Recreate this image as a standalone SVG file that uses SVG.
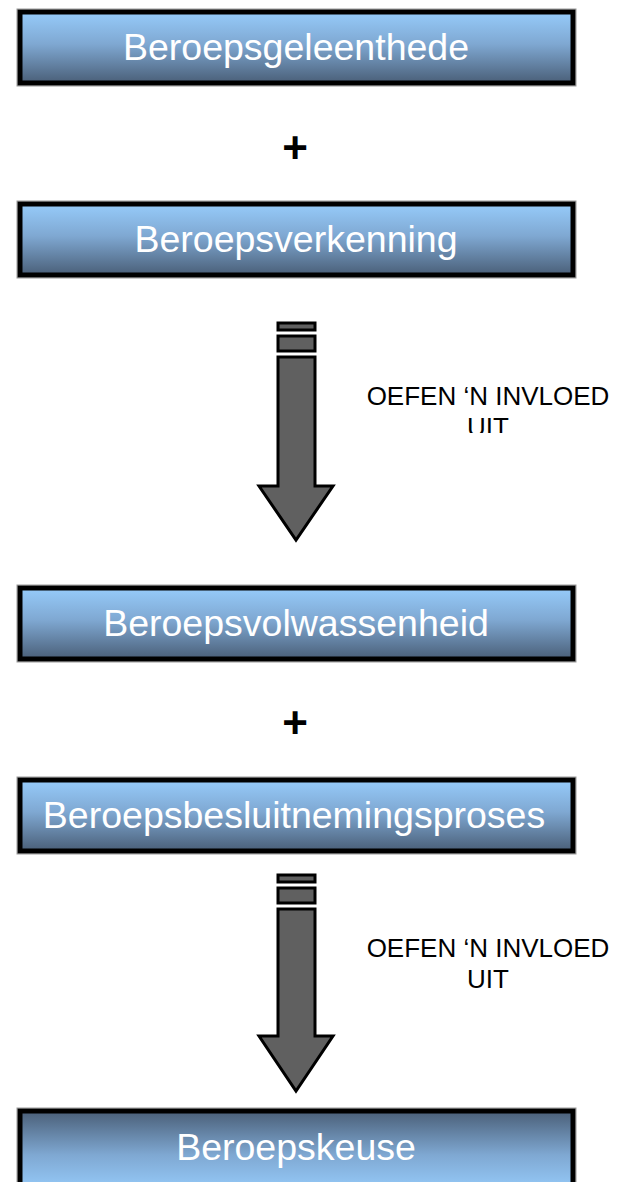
<svg xmlns="http://www.w3.org/2000/svg" width="632" height="1182" viewBox="0 0 632 1182">
<defs>
<linearGradient id="gDown" x1="0" y1="0" x2="0" y2="1">
<stop offset="0" stop-color="#96CBFA"/>
<stop offset="0.45" stop-color="#7FA8D2"/>
<stop offset="1" stop-color="#4A5F78"/>
</linearGradient>
<linearGradient id="gUp" x1="0" y1="1" x2="0" y2="0">
<stop offset="0" stop-color="#96CBFA"/>
<stop offset="0.45" stop-color="#7FA8D2"/>
<stop offset="1" stop-color="#4A5F78"/>
</linearGradient>
<clipPath id="clip1"><rect x="340" y="370" width="292" height="63"/></clipPath>
</defs>
<style>
.box{stroke:#000;stroke-width:5}
.outer{fill:none;stroke:#999;stroke-width:1}
.lbl{font-family:"Liberation Sans",Arial,sans-serif;font-size:37.5px;fill:#fff;text-anchor:middle}
.plus{font-family:"Liberation Sans",Arial,sans-serif;font-size:44px;font-weight:bold;fill:#000;text-anchor:middle}
.arr{fill:#606060;stroke:#000;stroke-width:3;stroke-linejoin:miter}
.note{font-family:"Liberation Sans",Arial,sans-serif;font-size:26px;fill:#000;text-anchor:middle}
</style>
<g id="node1">
<rect class="outer" x="17" y="9" width="559" height="77"/>
<rect class="box" x="20" y="12" width="553" height="71" fill="url(#gDown)"/>
<text class="lbl" x="296" y="60">Beroepsgeleenthede</text>
</g>
<g id="plus1"><text class="plus" x="295" y="163">+</text></g>
<g id="node2">
<rect class="outer" x="17" y="201" width="559" height="77"/>
<rect class="box" x="20" y="204" width="553" height="71" fill="url(#gDown)"/>
<text class="lbl" x="296" y="252">Beroepsverkenning</text>
</g>
<g id="node3">
<rect class="outer" x="17" y="585" width="559" height="77"/>
<rect class="box" x="20" y="588" width="553" height="71" fill="url(#gDown)"/>
<text class="lbl" x="296" y="636">Beroepsvolwassenheid</text>
</g>
<g id="plus2"><text class="plus" x="295" y="738">+</text></g>
<g id="node4">
<rect class="outer" x="17" y="777" width="559" height="77"/>
<rect class="box" x="20" y="780" width="553" height="71" fill="url(#gDown)"/>
<text class="lbl" x="294" y="828">Beroepsbesluitnemingsproses</text>
</g>
<g id="node5">
<rect class="outer" x="17" y="1108" width="559" height="80"/>
<rect class="box" x="20" y="1111" width="553" height="80" fill="url(#gUp)"/>
<text class="lbl" x="296" y="1160">Beroepskeuse</text>
</g>
<g id="connectors">
<g id="arrow1">
<rect class="arr" x="278" y="323" width="37" height="7"/>
<rect class="arr" x="278" y="336" width="37" height="15"/>
<path class="arr" d="M278,357 H315 V486 H333 L296,540 L259,486 H278 Z"/>
</g>
<g id="arrow2">
<rect class="arr" x="278" y="875" width="37" height="7"/>
<rect class="arr" x="278" y="888" width="37" height="15"/>
<path class="arr" d="M278,909 H315 V1036 H333 L296,1091 L259,1036 H278 Z"/>
</g>
</g>
<g id="label1" clip-path="url(#clip1)">
<text class="note" x="488" y="405">OEFEN ‘N INVLOED</text>
<text class="note" x="488" y="436">UIT</text>
</g>
<g id="label2">
<text class="note" x="488" y="957">OEFEN ‘N INVLOED</text>
<text class="note" x="488" y="988">UIT</text>
</g>
</svg>
